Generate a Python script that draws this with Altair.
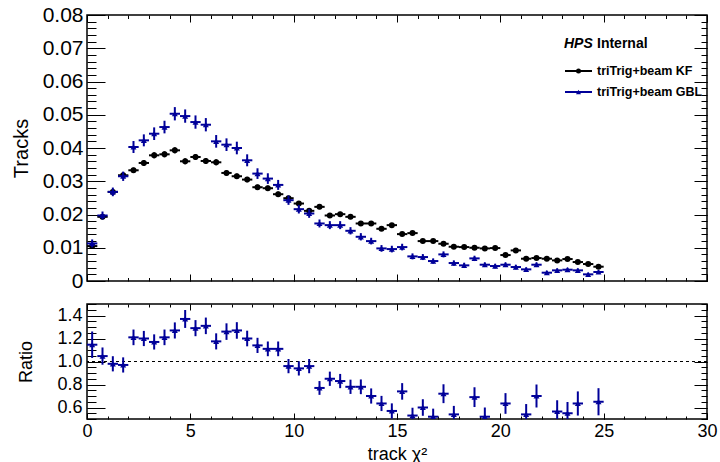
import altair as alt
import pandas as pd

FONT = "Liberation Sans"
BLUE = "#000099"

# Histogram binning: 50 bins of width 0.5 in track chi^2
BIN_WIDTH = 0.5
X_DOMAIN = [0, 30]

# Normalised track counts per bin
kf_vals = [
    0.0105, 0.0193, 0.0268, 0.0318, 0.0333, 0.0355, 0.0378, 0.0381, 0.0393, 0.0360,
    0.0373, 0.0361, 0.0357, 0.0325, 0.0315, 0.0305, 0.0282, 0.0279, 0.0261, 0.0249,
    0.0233, 0.0211, 0.0223, 0.0197, 0.0201, 0.0193, 0.0173, 0.0173, 0.0157, 0.0168,
    0.0141, 0.0144, 0.0120, 0.0120, 0.0112, 0.0103, 0.0102, 0.0100, 0.0098, 0.0099,
    0.0078, 0.0092, 0.0067, 0.0069, 0.0067, 0.0062, 0.0066, 0.0057, 0.0051, 0.0043,
]
kf_errs = [
    0.0006, 0.0007, 0.0008, 0.0008, 0.0008, 0.0009, 0.0009, 0.0009, 0.0009, 0.0009,
    0.0009, 0.0009, 0.0009, 0.0008, 0.0008, 0.0008, 0.0008, 0.0008, 0.0008, 0.0007,
    0.0007, 0.0007, 0.0007, 0.0007, 0.0007, 0.0007, 0.0006, 0.0006, 0.0006, 0.0006,
    0.0006, 0.0006, 0.0005, 0.0005, 0.0005, 0.0005, 0.0005, 0.0005, 0.0005, 0.0005,
    0.0004, 0.0005, 0.0004, 0.0004, 0.0004, 0.0004, 0.0004, 0.0004, 0.0004, 0.0003,
]
gbl_vals = [
    0.0113, 0.0197, 0.0268, 0.0315, 0.0403, 0.0423, 0.0443, 0.0463, 0.0503, 0.0496,
    0.0478, 0.0470, 0.0420, 0.0410, 0.0400, 0.0363, 0.0323, 0.0308, 0.0289, 0.0243,
    0.0216, 0.0203, 0.0173, 0.0168, 0.0168, 0.0151, 0.0133, 0.0120, 0.0098, 0.0096,
    0.0102, 0.0074, 0.0072, 0.0060, 0.0080, 0.0054, 0.0047, 0.0068, 0.0049, 0.0045,
    0.0049, 0.0042, 0.0035, 0.0049, 0.0025, 0.0032, 0.0034, 0.0032, 0.0020, 0.0027,
]
gbl_errs = [
    0.0012, 0.0012, 0.0013, 0.0014, 0.0018, 0.0018, 0.0019, 0.0019, 0.0020, 0.0020,
    0.0020, 0.0020, 0.0019, 0.0019, 0.0019, 0.0018, 0.0016, 0.0016, 0.0015, 0.0014,
    0.0013, 0.0013, 0.0012, 0.0012, 0.0012, 0.0011, 0.0011, 0.0010, 0.0010, 0.0010,
    0.0010, 0.0009, 0.0009, 0.0008, 0.0009, 0.0008, 0.0008, 0.0008, 0.0007, 0.0007,
    0.0007, 0.0007, 0.0006, 0.0007, 0.0006, 0.0006, 0.0006, 0.0006, 0.0005, 0.0006,
]

# GBL / KF ratio per bin
ratio_vals = [
    1.146, 1.047, 0.98, 0.97, 1.21, 1.20, 1.17, 1.21, 1.27, 1.37,
    1.29, 1.31, 1.175, 1.26, 1.27, 1.20, 1.14, 1.11, 1.11, 0.96,
    0.94, 0.96, 0.77, 0.85, 0.83, 0.78, 0.78, 0.70, 0.635, 0.57,
    0.74, 0.53, 0.60, 0.52, 0.72, 0.54, 0.46, 0.69, 0.52, 0.45,
    0.635, 0.46, 0.54, 0.70, 0.37, 0.565, 0.55, 0.635, 0.39, 0.65,
]
ratio_errs = [
    0.115, 0.075, 0.066, 0.066, 0.068, 0.066, 0.066, 0.068, 0.070, 0.078,
    0.070, 0.072, 0.070, 0.072, 0.072, 0.068, 0.066, 0.064, 0.064, 0.062,
    0.062, 0.062, 0.060, 0.062, 0.062, 0.062, 0.064, 0.066, 0.066, 0.066,
    0.072, 0.068, 0.072, 0.070, 0.082, 0.074, 0.080, 0.086, 0.080, 0.085,
    0.090, 0.090, 0.090, 0.100, 0.090, 0.098, 0.098, 0.105, 0.100, 0.118,
]

legend_labels = ["triTrig+beam KF", "triTrig+beam GBL"]

# Axis tick positions
x_major = [0, 5, 10, 15, 20, 25, 30]
x_minor = list(range(0, 31))
top_y_major = [0.0, 0.01, 0.02, 0.03, 0.04, 0.05, 0.06, 0.07, 0.08]
top_y_minor = [round(0.002 * k, 3) for k in range(41)]
ratio_y_major = [0.6, 0.8, 1.0, 1.2, 1.4]
ratio_y_minor = [round(0.5 + 0.05 * k, 2) for k in range(21)]

W = 620
TOP_H = 266
RATIO_H = 115


def hist_frame(vals, errs):
    lo = [i * BIN_WIDTH for i in range(len(vals))]
    return pd.DataFrame({
        "lo": lo,
        "hi": [b + BIN_WIDTH for b in lo],
        "mid": [b + BIN_WIDTH / 2 for b in lo],
        "val": vals,
        "err_lo": [v - e for v, e in zip(vals, errs)],
        "err_hi": [v + e for v, e in zip(vals, errs)],
    })


kf_df = hist_frame(kf_vals, kf_errs)
gbl_df = hist_frame(gbl_vals, gbl_errs)
ratio_df = hist_frame(ratio_vals, ratio_errs)


def edge_axis(orient, values, length, **extra):
    """Inward-pointing ticks on one edge of the frame."""
    opts = dict(orient=orient, values=values, tickSize=length, offset=-length,
                domain=False, grid=False, ticks=True, labels=False, title=None,
                labelFlush=False, tickColor="black", tickWidth=1)
    opts.update(extra)
    return alt.Axis(**opts)


def frame_layers(df, xs, ys, x_axes, y_axes):
    layers = []
    for ax_x, ax_y in zip(x_axes, y_axes):
        layers.append(
            alt.Chart(df).mark_point(opacity=0, clip=True).encode(
                x=alt.X("mid:Q", scale=xs, axis=ax_x),
                y=alt.Y("val:Q", scale=ys, axis=ax_y),
            )
        )
    return layers


def series_layers(df, xs, ys, color, shape, clip=False):
    xbar = alt.Chart(df).mark_rule(color=color, strokeWidth=2, clip=clip).encode(
        x=alt.X("lo:Q", scale=xs, axis=None),
        x2="hi:Q",
        y=alt.Y("val:Q", scale=ys, axis=None),
    )
    ybar = alt.Chart(df).mark_rule(color=color, strokeWidth=2, clip=clip).encode(
        x=alt.X("mid:Q", scale=xs, axis=None),
        y=alt.Y("err_lo:Q", scale=ys, axis=None),
        y2="err_hi:Q",
    )
    pts = alt.Chart(df).mark_point(shape=shape, filled=True, color=color, size=36,
                                   opacity=1, clip=clip).encode(
        x=alt.X("mid:Q", scale=xs, axis=None),
        y=alt.Y("val:Q", scale=ys, axis=None),
    )
    return [xbar, ybar, pts]


# ---------------- upper panel: distributions ----------------
xs_top = alt.Scale(domain=X_DOMAIN, nice=False, zero=False)
ys_top = alt.Scale(domain=[0, 0.08], nice=False, zero=False)

top_x_axes = [
    edge_axis("bottom", x_major, 7),
    edge_axis("bottom", x_minor, 3.5),
    edge_axis("top", x_major, 7),
    edge_axis("top", x_minor, 3.5),
]
top_y_axes = [
    edge_axis("left", top_y_major, 18, labels=True, format=".2f",
              labelExpr="datum.value == 0 ? '0' : datum.label",
              labelFontSize=21, labelPadding=4, title="Tracks",
              titleFontSize=20, titlePadding=11),
    edge_axis("left", top_y_minor, 9),
    edge_axis("right", top_y_major, 13),
    edge_axis("right", top_y_minor, 6),
]

legend_layers = []
hps = alt.Chart(pd.DataFrame({"t": ["HPS"]})).mark_text(
    align="left", baseline="middle", font=FONT, fontWeight="bold",
    fontStyle="italic", fontSize=14, color="black").encode(
    x=alt.value(477), y=alt.value(29), text="t:N")
internal = alt.Chart(pd.DataFrame({"t": ["Internal"]})).mark_text(
    align="left", baseline="middle", font=FONT, fontWeight="bold",
    fontSize=14, color="black").encode(
    x=alt.value(510), y=alt.value(29), text="t:N")
legend_layers += [hps, internal]
for i, (label, color, shape) in enumerate(
        zip(legend_labels, ["black", BLUE], ["circle", "triangle-up"])):
    ypos = 56 + 21 * i
    src = alt.Chart(pd.DataFrame({"label": [label]}))
    legend_layers.append(src.mark_rule(color=color, strokeWidth=2).encode(
        x=alt.value(478), x2=alt.value(505), y=alt.value(ypos)))
    legend_layers.append(src.mark_point(shape=shape, filled=True, color=color,
                                        size=25, opacity=1).encode(
        x=alt.value(491.5), y=alt.value(ypos)))
    legend_layers.append(src.mark_text(align="left", baseline="middle", font=FONT,
                                       fontWeight="bold", fontSize=12.5,
                                       color="black").encode(
        x=alt.value(510), y=alt.value(ypos), text="label:N"))

top = alt.layer(
    *frame_layers(kf_df, xs_top, ys_top, top_x_axes, top_y_axes),
    *series_layers(kf_df, xs_top, ys_top, "black", "circle"),
    *series_layers(gbl_df, xs_top, ys_top, BLUE, "triangle-up"),
    *legend_layers,
).resolve_axis(x="independent", y="independent").properties(width=W, height=TOP_H)

# ---------------- lower panel: ratio ----------------
xs_rat = alt.Scale(domain=X_DOMAIN, nice=False, zero=False)
ys_rat = alt.Scale(domain=[0.5, 1.5], nice=False, zero=False)

rat_x_axes = [
    edge_axis("bottom", x_major, 6, labels=True, format="d", labelFontSize=18,
              labelPadding=3, title="track \u03c7\u00b2", titleFontSize=18,
              titlePadding=5),
    edge_axis("bottom", x_minor, 3),
    edge_axis("top", x_major, 6),
    edge_axis("top", x_minor, 3),
]
rat_y_axes = [
    edge_axis("left", ratio_y_major, 18, labels=True, format=".1f",
              labelFontSize=18, labelPadding=5, title="Ratio",
              titleFontSize=18, titlePadding=21),
    edge_axis("left", ratio_y_minor, 9),
    edge_axis("right", ratio_y_major, 13),
    edge_axis("right", ratio_y_minor, 6),
]

ratio_shown = ratio_df[ratio_df["val"] >= 0.5]
unity = alt.Chart(pd.DataFrame({"ref": [1.0]})).mark_rule(
    color="black", strokeWidth=1, strokeDash=[3, 3]).encode(
    y=alt.Y("ref:Q", scale=ys_rat, axis=None))

ratio = alt.layer(
    *frame_layers(ratio_df, xs_rat, ys_rat, rat_x_axes, rat_y_axes),
    unity,
    *series_layers(ratio_shown, xs_rat, ys_rat, BLUE, "triangle-up", clip=True),
).resolve_axis(x="independent", y="independent").properties(width=W, height=RATIO_H)

chart = alt.vconcat(top, ratio, spacing=10).properties(
    padding={"left": 10, "top": 3, "right": 0, "bottom": 0},
    background="white",
).configure_axis(
    labelFont=FONT, titleFont=FONT, labelColor="black", titleColor="black",
    titleFontWeight="normal",
).configure_view(stroke="black", strokeWidth=1.5)

chart.save("out.html", embed_options={"renderer": "svg", "actions": False})
